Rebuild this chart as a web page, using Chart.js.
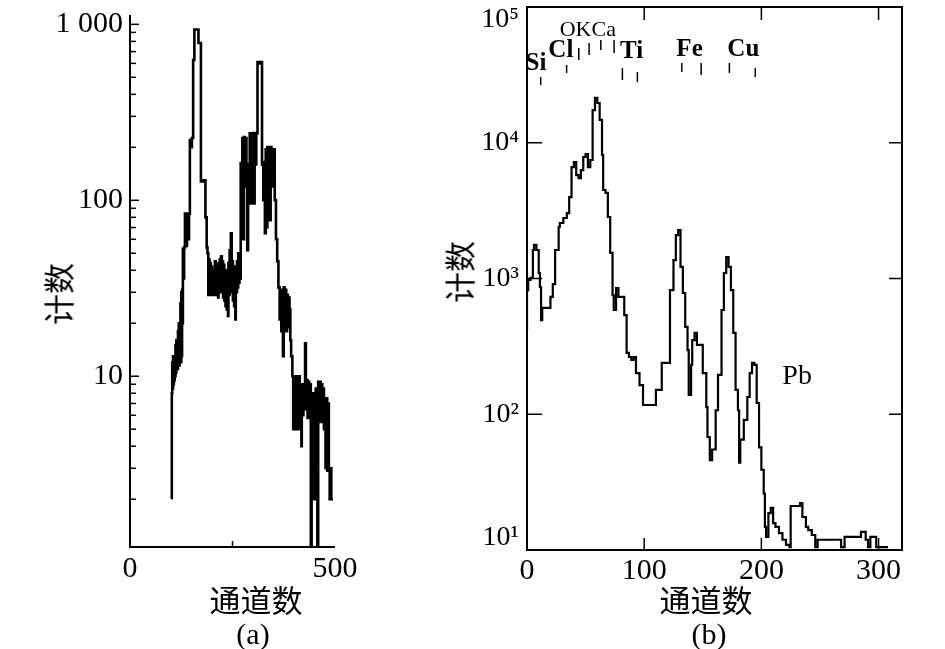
<!DOCTYPE html>
<html><head><meta charset="utf-8">
<script src="https://cdn.jsdelivr.net/npm/chart.js@4.4.1/dist/chart.umd.min.js"></script>
<style>
html,body{margin:0;padding:0;background:#fff;}
#wrap{position:relative;width:945px;height:649px;overflow:hidden;background:#fff;}
canvas{position:absolute;top:0;}
.t{position:absolute;transform:translate(-50%,-50%);white-space:nowrap;line-height:1;color:#000;}
.cjk{font-family:"Noto Sans CJK SC",sans-serif;font-size:31px;}
.ser{font-family:"Liberation Serif","DejaVu Serif",serif;font-size:30px;}
.rot{transform:translate(-50%,-50%) rotate(-90deg);}
</style></head><body>
<div id="wrap">
<canvas id="ca" width="420" height="649" style="left:0;width:420px;height:649px"></canvas>
<canvas id="cb" width="525" height="649" style="left:420px;width:525px;height:649px"></canvas>
<div class="t cjk rot" style="left:57px;top:294px">计数</div>
<div class="t cjk" style="left:256px;top:598px">通道数</div>
<div class="t ser" style="left:253px;top:634px">(a)</div>
<div class="t cjk rot" style="left:458px;top:272px">计数</div>
<div class="t cjk" style="left:706px;top:598px">通道数</div>
<div class="t ser" style="left:709px;top:634px">(b)</div>
</div>
<script>
// ---------- data: panel (a) ----------
const channelsA = [
  102,103,104,105,106,107,108,109,110,111,
  112,113,114,115,116,117,118,119,120,121,
  122,123,124,125,126,127,128,129,130,132,
  134,136,139,141,144,146,148,151,154,157,
  167,173,180,184,187,189,
  191,192,194,195,197,198,200,201,203,204,
  206,207,209,210,212,213,215,216,218,219,
  221,222,224,225,227,228,230,231,233,234,
  236,237,239,240,242,243,245,246,248,249,
  251,252,254,255,257,258,260,261,263,264,
  266,267,269,270,
  272,274,276,278,280,282,284,286,288,290,
  292,294,296,298,300,302,304,306,308,311,
  313,318,322,325,327,329,331,333,335,337,
  339,341,343,345,347,349,351,353,356,359,
  362,365,367,369,371,373,375,377,379,381,
  383,385,387,389,391,393,396,398,400,402,
  404,406,408,410,412,414,416,418,419,421,
  423,425,427,429,431,433,435,437,439,441,
  443,445,447,449,451,453,455,457,459,461,
  463,465,467,469,471,473,475,477,479,481,
  483,485,487,489,491,493,495];
const countsA = [
  2.0,8.0,12,8.5,13,9,12.5,9.5,13,10,
  15,10.5,16,11,16,11,18,11.5,20,11.5,
  20,12,26,12,30,13,31,20,53,36,
  54,84,55,84,60,84,220,200,226,627,
  935,783,128,130,80,54,
  50,29,46,30,44,29,42,31,40,29,
  38,29,45,30,42,29,40,28,44,30,
  46,31,48,30,45,28,43,27,40,25,
  40,24,38,22,44,29,52,30,65,30,
  45,27,42,25,40,21,42,30,45,32,
  50,34,48,36,
  163,143,226,60,229,120,226,160,52,160,
  140,240,96,235,100,241,96,241,160,240,
  611,600,611,160,100,165,65,195,70,201,
  150,201,77,201,170,195,120,195,100,60,
  45,32,21,31,18,30,13,32,20,31,
  18,29,19,28,24,16,13,10,5,9.5,
  5.5,10,5,9.8,6,10,5,9,4,8.5,
  6,9,6.5,15.4,7,9.5,5.8,9.3,6,9,
  1.0,2.0,8,2.2,7,2.0,8.5,2.0,1.0,9.3,
  6,9.3,5.5,9,6,8.5,5,7,3,7.5,
  2.9,7,2.9,2.0,3,2.0,2.0];
const xTicksA = [0, 250, 500];
const yTicksA = [10, 100, 1000];
const yTickLabelsA = ['10', '100', '1 000'];

// ---------- data: panel (b) ----------
const channelsB = [0,1,3,5,6,8,10,11,12,13,
  20,22,24,27,28,31,34,36,38,40,
  42,44,46,48,50,52,54,56,58,60,
  62,64,65,67,69,71,73,74,76,78,
  83,85,87,89,91,93,96,99,110,115,
  122,125,127,129,131,133,135,137,138,140,
  141,143,145,150,153,154,156,158,161,163,
  166,168,170,172,174,176,178,180,181,182,
  185,188,190,192,194,196,198,200,202,203,
  204,206,208,210,212,215,218,221,224,225,
  233,235,238,240,243,246,248,268,271,285,
  289,291,293,298,299,308];
const countsB = [418,822,975,1009,1622,1766,1622,1098,865,494,
  607,731,910,1622,2395,2564,2790,3036,3981,6622,
  7211,5781,5495,6295,7852,8265,6622,7464,17420,21380,
  19630,14720,8128,4487,4266,2838,1542,755,586,851,
  731,538,283,264,251,264,201,164,117,151,
  239,822,1368,2089,2275,1216,782,440,297,139,
  231,352,397,324,201,113,68,46,55,107,
  195,586,1098,1439,1216,822,397,151,107,44,
  65,91,134,201,239,231,121,57,39,26,
  14.8,12.5,18.7,20.4,15.8,14.8,13.3,11.9,10.9,10.5,
  21.1,22.2,17.5,14.8,14.0,12.9,10.5,11.9,10.5,12.5,
  13.6,11.9,10.5,12.5,10.5,10.5];
const xTicksB = [0, 100, 200, 300];
const yTicksB = [10, 100, 1000, 10000, 100000];
const yTickLabelsB = ['10¹', '10²', '10³', '10⁴', '10⁵'];

// element annotations (data coordinates)
const elementNames    = ['Si', 'Cl', 'OKCa', 'Ti', 'Fe', 'Cu', 'Pb'];
const elementChannels = [7.7, 28.9, 51.9, 89.3, 138.7, 184.6, 230.5];
const elementCounts   = [38000, 47400, 67700, 46600, 49000, 49000, 188];
const markerChannels  = [11.7, 33.8, 44.2, 53, 63, 74.3, 81.4, 94.2, 132.1, 148.6, 172.7, 194.8];
const markerTop       = [30500, 37400, 49900, 54300, 57100, 57100, 35500, 33200, 38700, 38700, 38700, 35500];
const markerBottom    = [26600, 32700, 40700, 44300, 48200, 45800, 29000, 28000, 33200, 31600, 32700, 30500];

// ---------- rendering ----------
const SERIF = '"Liberation Serif","DejaVu Serif",serif';
Chart.defaults.color = '#000';

function fixW(w){ return s => { s.width = w; s.paddingTop = 0; s.paddingBottom = 0; s.paddingLeft = 0; s.paddingRight = 0; }; }
function fixH(h){ return s => { s.height = h; s.paddingTop = 0; s.paddingBottom = 0; s.paddingLeft = 0; s.paddingRight = 0; }; }
function seg(ctx, x1, y1, x2, y2){ ctx.beginPath(); ctx.moveTo(x1, y1); ctx.lineTo(x2, y2); ctx.stroke(); }

const axesA = {
  id: 'axesA',
  afterDatasetsDraw(chart){
    const {ctx, chartArea: ca, scales: {x, y}} = chart;
    ctx.save();
    ctx.strokeStyle = '#000'; ctx.lineWidth = 2;
    ctx.beginPath(); ctx.moveTo(ca.left, ca.top); ctx.lineTo(ca.left, ca.bottom); ctx.lineTo(ca.right, ca.bottom); ctx.stroke();
    ctx.lineWidth = 1.5;
    yTicksA.forEach(v => { const p = y.getPixelForValue(v); seg(ctx, ca.left, p, ca.left + 9, p); });
    for (let e = 0; e <= 3; e++) for (let m = 2; m <= 9; m++) {
      const v = m * Math.pow(10, e);
      if (v < y.min || v > y.max) continue;
      const p = y.getPixelForValue(v); seg(ctx, ca.left, p, ca.left + 6, p);
    }
    xTicksA.slice(1, -1).forEach(v => { const p = x.getPixelForValue(v); seg(ctx, p, ca.bottom, p, ca.bottom - 6); });
    ctx.restore();
  }
};

const axesB = {
  id: 'axesB',
  afterDatasetsDraw(chart){
    const {ctx, chartArea: ca, scales: {x, y}} = chart;
    ctx.save();
    ctx.strokeStyle = '#000'; ctx.lineWidth = 2;
    ctx.strokeRect(ca.left, ca.top, ca.right - ca.left, ca.bottom - ca.top);
    ctx.lineWidth = 1.5;
    yTicksB.slice(1, -1).forEach(v => {
      const p = y.getPixelForValue(v);
      seg(ctx, ca.left, p, ca.left + 15, p);
      seg(ctx, ca.right - 13, p, ca.right, p);
    });
    xTicksB.slice(1).forEach(v => {
      const p = x.getPixelForValue(v);
      seg(ctx, p, ca.bottom, p, ca.bottom - 12);
      seg(ctx, p, ca.top, p, ca.top + 13);
    });
    // element markers
    ctx.lineWidth = 1.5;
    markerChannels.forEach((c, i) => {
      const px = x.getPixelForValue(c);
      seg(ctx, px, y.getPixelForValue(markerTop[i]), px, y.getPixelForValue(markerBottom[i]));
    });
    // element labels
    ctx.fillStyle = '#000'; ctx.textAlign = 'center'; ctx.textBaseline = 'middle';
    elementNames.forEach((n, i) => {
      let f;
      if (n === 'OKCa') f = '22px ' + SERIF;
      else if (n === 'Pb') f = '28px ' + SERIF;
      else f = 'bold 25px ' + SERIF;
      ctx.font = f;
      ctx.fillText(n, x.getPixelForValue(elementChannels[i]), y.getPixelForValue(elementCounts[i]));
    });
    ctx.restore();
  }
};

new Chart(document.getElementById('ca'), {
  type: 'line',
  data: { datasets: [{
    data: channelsA.map((c, i) => ({x: c, y: countsA[i]})),
    borderColor: '#000', borderWidth: 2.6, pointRadius: 0, stepped: 'after', fill: false
  }]},
  options: {
    responsive: false, animation: false, events: [],
    layout: { autoPadding: false, padding: {left: 0, top: 15, right: 85, bottom: 0} },
    plugins: { legend: {display: false}, tooltip: {enabled: false} },
    scales: {
      x: { type: 'linear', min: 0, max: 500,
        grid: {display: false, drawTicks: false}, border: {display: false},
        afterBuildTicks: s => { s.ticks = xTicksA.map(v => ({value: v})); },
        afterFit: fixH(102),
        ticks: { autoSkip: false, maxRotation: 0, padding: 4, color: '#000',
          font: {family: SERIF, size: 30},
          callback: v => (v === 0 || v === 500) ? String(v) : '' } },
      y: { type: 'logarithmic', min: 1.07, max: 1130,
        grid: {display: false, drawTicks: false}, border: {display: false},
        afterBuildTicks: s => { s.ticks = yTicksA.map(v => ({value: v})); },
        afterFit: fixW(130),
        ticks: { autoSkip: false, padding: 7, color: '#000',
          font: {family: SERIF, size: 30},
          callback: (v, i) => yTickLabelsA[i] } }
    }
  },
  plugins: [axesA]
});

new Chart(document.getElementById('cb'), {
  type: 'line',
  data: { datasets: [{
    data: channelsB.map((c, i) => ({x: c, y: countsB[i]})),
    borderColor: '#000', borderWidth: 2.2, pointRadius: 0, stepped: 'after', fill: false
  }]},
  options: {
    responsive: false, animation: false, events: [],
    layout: { autoPadding: false, padding: {left: 0, top: 7, right: 43, bottom: 0} },
    plugins: { legend: {display: false}, tooltip: {enabled: false} },
    scales: {
      x: { type: 'linear', min: 0, max: 320,
        grid: {display: false, drawTicks: false}, border: {display: false},
        afterBuildTicks: s => { s.ticks = xTicksB.map(v => ({value: v})); },
        afterFit: fixH(99),
        ticks: { autoSkip: false, maxRotation: 0, padding: 3, color: '#000',
          font: {family: SERIF, size: 30},
          callback: v => String(v) } },
      y: { type: 'logarithmic', min: 10, max: 100000,
        grid: {display: false, drawTicks: false}, border: {display: false},
        afterBuildTicks: s => { s.ticks = yTicksB.map(v => ({value: v})); },
        afterFit: fixW(107),
        ticks: { autoSkip: false, padding: 8, color: '#000',
          font: {family: SERIF, size: 28, lineHeight: 0.9},
          callback: (v, i) => i === 0 ? [yTickLabelsB[i], ''] : (i === yTicksB.length - 1 ? ['', yTickLabelsB[i]] : yTickLabelsB[i]) } }
    }
  },
  plugins: [axesB]
});
</script>
</body></html>
